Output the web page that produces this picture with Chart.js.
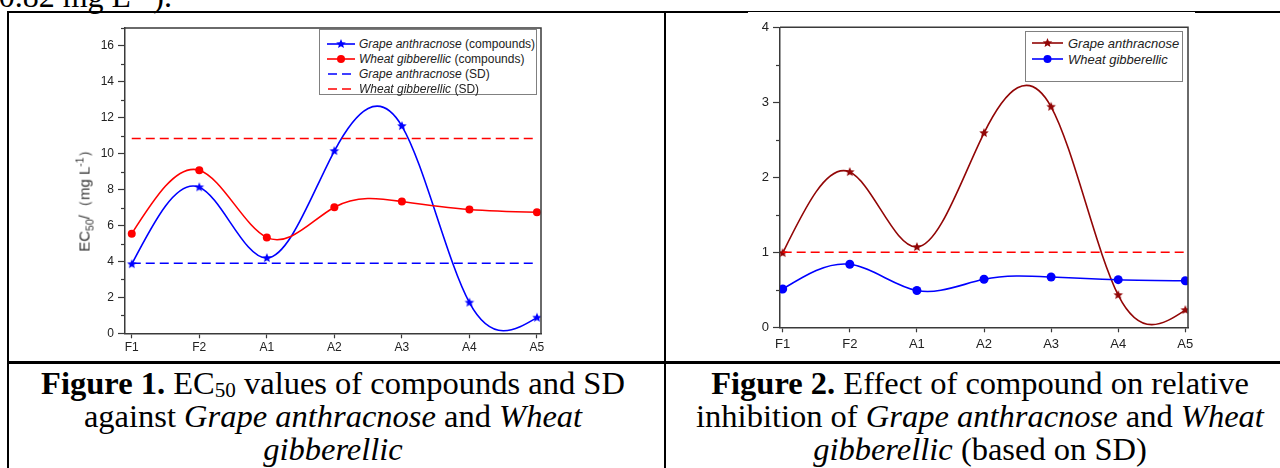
<!DOCTYPE html>
<html>
<head>
<meta charset="utf-8">
<script src="https://cdn.jsdelivr.net/npm/chart.js@4.4.1/dist/chart.umd.min.js"></script>
<style>
  html, body { margin: 0; padding: 0; background: #fff; }
  body { width: 1280px; height: 468px; position: relative; overflow: hidden; }
  .abs { position: absolute; }
  .hline, .vline { position: absolute; background: #000; }
  .serif { font-family: "Liberation Serif", "Times New Roman", serif; color: #000; }
  .topText { left: -12px; top: -20px; font-size: 32px; line-height: 1; white-space: nowrap; }
  .caption { top: 367px; font-size: 32.5px; line-height: 33.2px; text-align: center; }
  .caption sub { font-size: 0.65em; line-height: 0; vertical-align: -0.15em; }
  .topText sup { font-size: 0.65em; line-height: 0; }
  .legend { position: absolute; border: 1px solid #808080; background: #fff; box-sizing: border-box;
            font-family: "Liberation Sans", Arial, sans-serif; color: #222; }
  .legend .row { position: absolute; white-space: nowrap; display: flex; align-items: center; }
  .legend svg { display: block; }
  .ytitle { position: absolute; left: 85px; top: 197px; transform: translate(-50%, -50%) rotate(-90deg);
            font-family: "Liberation Sans", Arial, sans-serif; font-size: 15px; color: #333; white-space: nowrap; }
  .ytitle sub, .ytitle sup { font-size: 0.7em; line-height: 0; }
  canvas { position: absolute; }
</style>
</head>
<body>

<div class="abs serif topText">(0.82 mg L<sup>−1</sup>).</div>

<!-- table lines -->
<div class="hline" style="left:8px; top:11px; width:740px; height:2px;"></div>
<div class="hline" style="left:748px; top:11px; width:447px; height:1px;"></div>
<div class="hline" style="left:1195px; top:11px; width:85px; height:2px;"></div>
<div class="vline" style="left:7px; top:11px; width:2px; height:457px;"></div>
<div class="vline" style="left:664px; top:11px; width:2px; height:457px;"></div>
<div class="hline" style="left:7px; top:361px; width:1273px; height:3px;"></div>

<canvas id="chart1" width="500" height="346" style="left:60px; top:14px;"></canvas>
<canvas id="chart2" width="520" height="346" style="left:700px; top:14px;"></canvas>

<div class="ytitle">EC<sub>50</sub>/（mg L<sup>-1</sup>）</div>

<div id="legend1" class="legend" style="left:319px; top:29px; width:218px; height:66px; font-size:12px;"></div>
<div id="legend2" class="legend" style="left:1025px; top:31px; width:158px; height:51px; font-size:13px;"></div>

<div class="abs serif caption" style="left:8px; width:650px;">
  <b>Figure 1.</b> EC<sub>50</sub> values of compounds and SD<br>
  against <i>Grape anthracnose</i> and <i>Wheat</i><br>
  <i>gibberellic</i>
</div>
<div class="abs serif caption" style="left:665px; width:630px;">
  <b>Figure 2.</b> Effect of compound on relative<br>
  inhibition of <i>Grape anthracnose</i> and <i>Wheat</i><br>
  <i>gibberellic</i> (based on SD)
</div>

<script>
// data
const labels = ['F1', 'F2', 'A1', 'A2', 'A3', 'A4', 'A5'];

// Figure 1: EC50 (mg/L)
const grapeEC50 = [3.85, 8.13, 4.19, 10.15, 11.54, 1.71, 0.87];
const wheatEC50 = [5.55, 9.08, 5.34, 7.02, 7.34, 6.89, 6.74];
const grapeSD = [3.9, 3.9, 3.9, 3.9, 3.9, 3.9, 3.9];
const wheatSD = [10.85, 10.85, 10.85, 10.85, 10.85, 10.85, 10.85];
const ticks1 = [0, 2, 4, 6, 8, 10, 12, 14, 16];

// Figure 2: relative inhibition (based on SD)
const grapeRel = [0.99, 2.07, 1.07, 2.59, 2.94, 0.43, 0.23];
const wheatRel = [0.51, 0.84, 0.49, 0.64, 0.67, 0.635, 0.62];
const sdRel = [1, 1, 1, 1, 1, 1, 1];
const ticks2 = [0, 1, 2, 3, 4];

const BLUE = '#0000ff';
const RED = '#ff0000';
const DARKRED = '#920606';
const AXIS = '#3a3a3a';
const FONT = '"Liberation Sans", Arial, sans-serif';

function starCanvas(color, r) {
  const s = Math.ceil(r * 2 + 2);
  const c = document.createElement('canvas');
  c.width = s; c.height = s;
  const g = c.getContext('2d');
  g.fillStyle = color;
  g.beginPath();
  for (let i = 0; i < 10; i++) {
    const rad = i % 2 ? r * 0.45 : r;
    const a = -Math.PI / 2 + i * Math.PI / 5;
    g.lineTo(s / 2 + rad * Math.cos(a), s / 2 + rad * Math.sin(a));
  }
  g.closePath();
  g.fill();
  return c;
}

function starPoints(cx, cy, r) {
  const pts = [];
  for (let i = 0; i < 10; i++) {
    const rad = i % 2 ? r * 0.45 : r;
    const a = -Math.PI / 2 + i * Math.PI / 5;
    pts.push((cx + rad * Math.cos(a)).toFixed(2) + ',' + (cy + rad * Math.sin(a)).toFixed(2));
  }
  return pts.join(' ');
}

const xy = arr => arr.map((v, i) => ({ x: i, y: v }));

function curve(label, data, color, marker, r) {
  return {
    label, data: xy(data), spline: true,
    borderColor: color, backgroundColor: color,
    borderWidth: 1.6, tension: 0.4,
    pointStyle: marker === 'star' ? starCanvas(color, r) : 'circle',
    pointRadius: r, pointHoverRadius: r, pointBorderWidth: 0
  };
}

function dashed(label, data, color) {
  return {
    label, data: xy(data),
    borderColor: color, borderWidth: 1.6, borderDash: [9, 5],
    pointRadius: 0, tension: 0
  };
}

// natural cubic spline (like the Origin "spline" connector) instead of chart.js' own control points
const splinePlugin = {
  id: 'naturalSpline',
  beforeDatasetDraw(chart, args) {
    const ds = chart.data.datasets[args.index];
    if (!ds.spline) return;
    const pts = args.meta.data;
    const n = pts.length;
    if (n < 3) return;
    const x = pts.map(p => p.x), y = pts.map(p => p.y);
    const h = [];
    for (let i = 0; i < n - 1; i++) h[i] = x[i + 1] - x[i];
    // tridiagonal system for second derivatives, natural ends
    const a = [], b = [], c = [], d = [];
    for (let i = 1; i < n - 1; i++) {
      a[i] = h[i - 1];
      b[i] = 2 * (h[i - 1] + h[i]);
      c[i] = h[i];
      d[i] = 6 * ((y[i + 1] - y[i]) / h[i] - (y[i] - y[i - 1]) / h[i - 1]);
    }
    for (let i = 2; i < n - 1; i++) {
      const m = a[i] / b[i - 1];
      b[i] -= m * c[i - 1];
      d[i] -= m * d[i - 1];
    }
    const M = new Array(n).fill(0);
    for (let i = n - 2; i >= 1; i--) M[i] = (d[i] - (i < n - 2 ? c[i] * M[i + 1] : 0)) / b[i];
    const slope = [];
    for (let i = 0; i < n - 1; i++) slope[i] = (y[i + 1] - y[i]) / h[i] - h[i] * (2 * M[i] + M[i + 1]) / 6;
    slope[n - 1] = (y[n - 1] - y[n - 2]) / h[n - 2] + h[n - 2] * (M[n - 2] + 2 * M[n - 1]) / 6;
    for (let i = 0; i < n; i++) {
      const hp = i > 0 ? h[i - 1] : 0;
      const hn = i < n - 1 ? h[i] : 0;
      pts[i].cp1x = x[i] - hp / 3;
      pts[i].cp1y = y[i] - hp / 3 * slope[i];
      pts[i].cp2x = x[i] + hn / 3;
      pts[i].cp2y = y[i] + hn / 3 * slope[i];
    }
    args.meta.dataset._pointsUpdated = true;
  }
};

// minor ticks on the y axis and the top/right frame lines
const framePlugin = {
  id: 'frame',
  afterDraw(chart, args, opts) {
    const { ctx, chartArea: a } = chart;
    const y = chart.scales.y;
    ctx.save();
    ctx.strokeStyle = AXIS;
    ctx.lineWidth = 1.5;
    ctx.beginPath();
    ctx.moveTo(a.left, a.top);
    ctx.lineTo(a.right, a.top);
    ctx.lineTo(a.right, a.bottom);
    ctx.stroke();
    ctx.lineWidth = 1.2;
    for (let v = opts.minor; v <= y.max + 1e-9; v += opts.minor * 2) {
      const py = Math.round(y.getPixelForValue(v)) + 0.5;
      ctx.beginPath();
      ctx.moveTo(a.left - 4, py);
      ctx.lineTo(a.left, py);
      ctx.stroke();
    }
    ctx.restore();
  }
};

function makeChart(id, datasets, o) {
  return new Chart(document.getElementById(id), {
    type: 'line',
    data: { datasets },
    plugins: [splinePlugin, framePlugin],
    options: {
      responsive: false,
      animation: false,
      devicePixelRatio: 1,
      layout: { padding: o.padding },
      plugins: {
        legend: { display: false },
        tooltip: { enabled: false },
        frame: { minor: o.minor }
      },
      scales: {
        x: {
          type: 'linear', min: o.xmin, max: o.xmax,
          afterBuildTicks: s => { s.ticks = labels.map((l, i) => ({ value: i })); },
          afterFit: s => { s.height = o.xh; },
          ticks: { callback: v => labels[v], color: '#222', font: { family: FONT, size: o.fs }, padding: o.xpad, maxRotation: 0 },
          grid: { drawOnChartArea: false, tickLength: 5, tickColor: AXIS, tickWidth: 1.2 },
          border: { color: AXIS, width: 1.5 }
        },
        y: {
          min: 0, max: o.ymax,
          afterBuildTicks: s => { s.ticks = o.ticks.map(v => ({ value: v })); },
          afterFit: s => { s.width = o.yw; },
          ticks: { color: '#222', font: { family: FONT, size: o.fs }, padding: 4 },
          grid: { drawOnChartArea: false, tickLength: 7, tickColor: AXIS, tickWidth: 1.2 },
          border: { color: AXIS, width: 1.5 }
        }
      }
    }
  });
}

makeChart('chart1', [
  dashed('Grape anthracnose (SD)', grapeSD, BLUE),
  dashed('Wheat gibberellic (SD)', wheatSD, RED),
  curve('Wheat gibberellic (compounds)', wheatEC50, RED, 'circle', 4),
  curve('Grape anthracnose (compounds)', grapeEC50, BLUE, 'star', 5)
], { padding: { top: 14, right: 19, left: 0, bottom: 0 }, xmin: -0.1, xmax: 6.06, xh: 26.7, yw: 65,
     ymax: 17, ticks: ticks1, minor: 1, fs: 12, xpad: 2 });

makeChart('chart2', [
  dashed('SD', sdRel, RED),
  curve('Wheat gibberellic', wheatRel, BLUE, 'circle', 4.5),
  curve('Grape anthracnose', grapeRel, DARKRED, 'star', 5)
], { padding: { top: 13.3, right: 32, left: 0, bottom: 0 }, xmin: -0.04, xmax: 6.04, xh: 32.7, yw: 80,
     ymax: 4, ticks: ticks2, minor: 0.5, fs: 13, xpad: 4 });

// legends (html, to allow italic species names)
function legendRow(box, item, top, sx, sw, tx) {
  const row = document.createElement('div');
  row.className = 'row';
  row.style.top = top + 'px';
  row.style.left = sx + 'px';
  row.style.height = '0px';
  let mark = '';
  if (item.marker === 'star') mark = `<polygon points="${starPoints(sw / 2, 6, 5)}" fill="${item.color}"/>`;
  if (item.marker === 'circle') mark = `<circle cx="${sw / 2}" cy="6" r="4" fill="${item.color}"/>`;
  const dash = item.dashed ? ' stroke-dasharray="9 5"' : '';
  const x1 = item.dashed ? 1 : 0;
  row.innerHTML = `<svg width="${sw}" height="12"><line x1="${x1}" y1="6" x2="${sw}" y2="6" stroke="${item.color}" stroke-width="1.6"${dash}/>${mark}</svg>` +
    `<span style="margin-left:${tx - sx - sw}px">${item.html}</span>`;
  box.appendChild(row);
}

const legend1 = [
  { html: '<i>Grape anthracnose</i> (compounds)', color: BLUE, marker: 'star' },
  { html: '<i>Wheat gibberellic</i> (compounds)', color: RED, marker: 'circle' },
  { html: '<i>Grape anthracnose</i> (SD)', color: BLUE, dashed: true },
  { html: '<i>Wheat gibberellic</i> (SD)', color: RED, dashed: true }
];
const legend2 = [
  { html: '<i>Grape anthracnose</i>', color: DARKRED, marker: 'star' },
  { html: '<i>Wheat gibberellic</i>', color: BLUE, marker: 'circle' }
];
const l1 = document.getElementById('legend1');
legend1.forEach((it, i) => legendRow(l1, it, 14.3 + i * 14.8, 7, 28, 39));
const l2 = document.getElementById('legend2');
legend2.forEach((it, i) => legendRow(l2, it, 11 + i * 16, 6, 31, 42));
</script>
</body>
</html>
